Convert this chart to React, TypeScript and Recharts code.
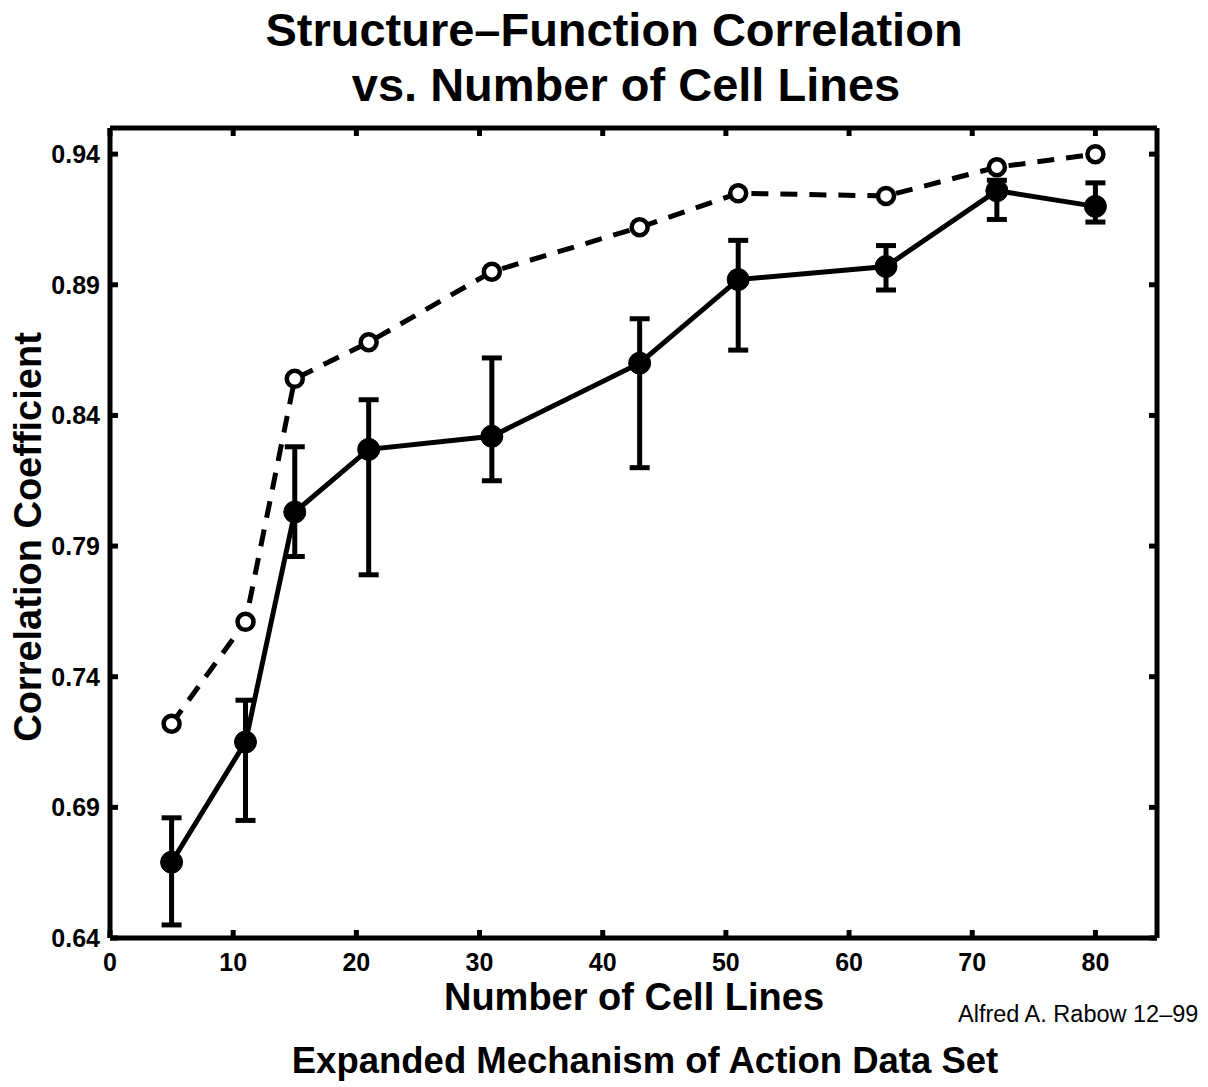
import React from "react";
import {
  ComposedChart,
  Line,
  XAxis,
  YAxis,
  ErrorBar,
} from "recharts";

// number of cell lines used
const cellLines = [5, 11, 15, 21, 31, 43, 51, 63, 72, 80];
// dashed curve, open circles
const bestCorr = [0.722, 0.761, 0.854, 0.868, 0.895, 0.912, 0.925, 0.924, 0.935, 0.94];
// solid curve, filled circles
const meanCorr = [0.669, 0.715, 0.803, 0.827, 0.832, 0.86, 0.892, 0.897, 0.926, 0.92];
const upperCorr = [0.686, 0.731, 0.828, 0.846, 0.862, 0.877, 0.907, 0.905, 0.93, 0.929];
const lowerCorr = [0.645, 0.685, 0.786, 0.779, 0.815, 0.82, 0.865, 0.888, 0.915, 0.914];

const xTicks = [0, 10, 20, 30, 40, 50, 60, 70, 80];
const yTicks = [0.64, 0.69, 0.74, 0.79, 0.84, 0.89, 0.94];

const data = cellLines.map((n, i) => ({
  n,
  best: bestCorr[i],
  mean: meanCorr[i],
  err: [meanCorr[i] - lowerCorr[i], upperCorr[i] - meanCorr[i]],
}));

const FONT = "'Liberation Sans', Arial, Helvetica, sans-serif";
const axisStyle = { stroke: "#000", strokeWidth: 5 };
const tickFont = { fontSize: "25px", fontWeight: 700, fontFamily: FONT };
const EmptyTick = () => <g />;

const XTick = ({ x, y, payload }: any) => (
  <text x={x} y={y} dy={20} textAnchor="middle" fill="#000" style={tickFont}>
    {payload.value}
  </text>
);

const YTick = ({ x, y, payload }: any) => (
  <text x={x} y={y} dy={9} textAnchor="end" fill="#000" style={tickFont}>
    {Number(payload.value).toFixed(2)}
  </text>
);

export default function App() {
  return (
    <div style={{ position: "absolute", left: 0, top: 0, width: 1208, height: 1087, background: "#fff" }}>
      <ComposedChart
        width={1208}
        height={1087}
        data={data}
        margin={{ top: 127, right: 50, bottom: 109, left: 10 }}
      >
        <XAxis
          xAxisId="bottom"
          dataKey="n"
          type="number"
          domain={[0, 85]}
          allowDataOverflow
          ticks={xTicks}
          tick={XTick}
          tickSize={-8}
          tickMargin={21}
          tickLine={axisStyle}
          axisLine={axisStyle}
          height={40}
        />
        <XAxis
          xAxisId="top"
          orientation="top"
          dataKey="n"
          type="number"
          domain={[0, 85]}
          allowDataOverflow
          ticks={xTicks}
          tick={EmptyTick}
          tickSize={-8}
          tickLine={axisStyle}
          axisLine={axisStyle}
          height={1}
        />
        <YAxis
          yAxisId="left"
          type="number"
          domain={[0.64, 0.95]}
          allowDataOverflow
          ticks={yTicks}
          tick={YTick}
          tickSize={-8}
          tickMargin={18}
          tickLine={axisStyle}
          axisLine={axisStyle}
          width={100}
        />
        <YAxis
          yAxisId="right"
          orientation="right"
          type="number"
          domain={[0.64, 0.95]}
          allowDataOverflow
          ticks={yTicks}
          tick={EmptyTick}
          tickSize={-8}
          tickLine={axisStyle}
          axisLine={axisStyle}
          width={1}
        />
        <Line
          xAxisId="top"
          yAxisId="right"
          type="linear"
          dataKey="best"
          stroke="#000"
          strokeWidth={5}
          strokeDasharray="17 12"
          dot={{ r: 8, fill: "#fff", stroke: "#000", strokeWidth: 4.5, strokeDasharray: "none" }}
          activeDot={false}
          isAnimationActive={false}
        />
        <Line
          xAxisId="bottom"
          yAxisId="left"
          type="linear"
          dataKey="mean"
          stroke="#000"
          strokeWidth={5}
          dot={{ r: 11, fill: "#000", stroke: "#000", strokeWidth: 1 }}
          activeDot={false}
          isAnimationActive={false}
        >
          <ErrorBar dataKey="err" direction="y" width={10} stroke="#000" strokeWidth={5} isAnimationActive={false} />
        </Line>
      </ComposedChart>

      <svg
        width={1208}
        height={1087}
        style={{ position: "absolute", left: 0, top: 0, pointerEvents: "none" }}
        fontFamily={FONT}
      >
        <text x={614} y={46} textAnchor="middle" fontSize={47} fontWeight={700}>
          Structure–Function Correlation
        </text>
        <text x={626} y={101} textAnchor="middle" fontSize={47} fontWeight={700}>
          vs. Number of Cell Lines
        </text>
        <text
          x={41}
          y={537}
          textAnchor="middle"
          fontSize={38}
          fontWeight={700}
          transform="rotate(-90 41 537)"
        >
          Correlation Coefficient
        </text>
        <text x={634} y={1010} textAnchor="middle" fontSize={38} fontWeight={700}>
          Number of Cell Lines
        </text>
        <text x={958} y={1022} fontSize={23.5}>
          Alfred A. Rabow 12–99
        </text>
        <text x={645} y={1073} textAnchor="middle" fontSize={36.5} fontWeight={700}>
          Expanded Mechanism of Action Data Set
        </text>
      </svg>
    </div>
  );
}
